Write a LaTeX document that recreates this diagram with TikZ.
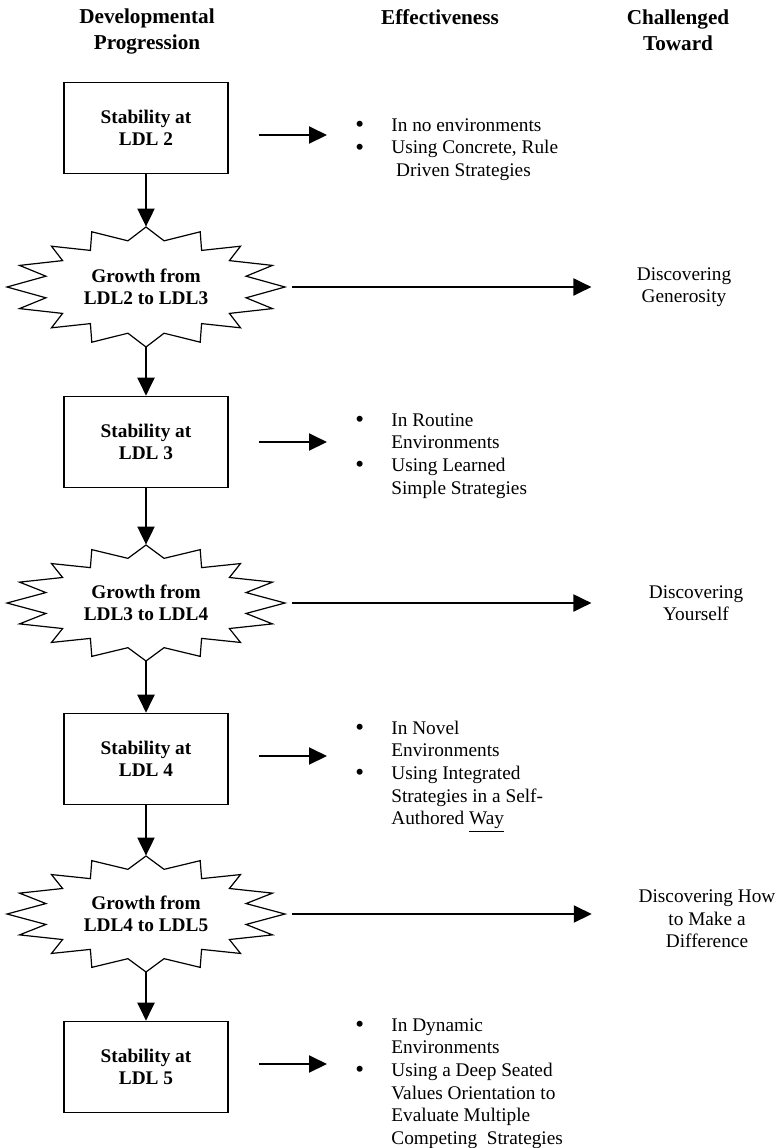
\documentclass[tikz,border=0pt]{standalone}
\usepackage{fontspec}
\setmainfont{Liberation Serif}
\usetikzlibrary{arrows.meta}
\newcommand{\effbullet}{\raisebox{-0.7pt}{\fontsize{12.5}{11}\selectfont\textbullet}}

\begin{document}
\begin{tikzpicture}[x=0.5pt,y=-0.5pt,
   arr/.style={-{Triangle[length=9pt,width=8.5pt]},line width=1pt},
   colhead/.style={align=center,inner sep=0,font=\fontsize{10.6}{13}\selectfont\bfseries},
   stab/.style={draw,line width=0.8pt,minimum width=82pt,minimum height=45.5pt,align=center,inner sep=0,font=\fontsize{9.65}{11}\selectfont\bfseries},
   growbox/.style={minimum width=139pt,minimum height=58pt,align=center,inner sep=0,font=\fontsize{9.65}{11}\selectfont\bfseries},
   burstline/.style={line width=0.6pt,line join=miter},
   eff/.style={anchor=base west,inner sep=0,font=\fontsize{9.65}{11.35}\selectfont},
   goal/.style={align=center,inner sep=0,font=\fontsize{9.65}{11.2}\selectfont}]
   \useasboundingbox (0,0) rectangle (781,1148);

   \node[colhead] (h1) at (147,31) {Developmental\\Progression};
   \node[colhead] (h2) at (440,17) {Effectiveness};
   \node[colhead] (h3) at (678,30) {Challenged\\Toward};

   \node[stab] (b1) at (146,128) {Stability at\\LDL 2};
   \node[growbox,minimum height=60pt] (g1) at (146,287) {Growth from\\LDL2 to LDL3};
   \node[stab] (b2) at (146,442) {Stability at\\LDL 3};
   \node[growbox] (g2) at (146,603) {Growth from\\LDL3 to LDL4};
   \node[stab] (b3) at (146,759) {Stability at\\LDL 4};
   \node[growbox] (g3) at (146,914) {Growth from\\LDL4 to LDL5};
   \node[stab] (b4) at (146,1067) {Stability at\\LDL 5};

   \node[eff] (e1) at (355,131) {\begin{tabular}[t]{@{}p{18pt}@{}l@{}}
      \effbullet & In no environments\\
      \effbullet & Using Concrete, Rule\\
      & \ Driven Strategies
   \end{tabular}};
   \node[eff] (e2) at (355,426) {\begin{tabular}[t]{@{}p{18pt}@{}l@{}}
      \effbullet & In Routine\\
      & Environments\\
      \effbullet & Using Learned\\
      & Simple Strategies
   \end{tabular}};
   \node[eff] (e3) at (355,734) {\begin{tabular}[t]{@{}p{18pt}@{}l@{}}
      \effbullet & In Novel\\
      & Environments\\
      \effbullet & Using Integrated\\
      & Strategies in a Self-\\
      & Authored \underline{Way}
   \end{tabular}};
   \node[eff] (e4) at (355,1031) {\begin{tabular}[t]{@{}p{18pt}@{}l@{}}
      \effbullet & In Dynamic\\
      & Environments\\
      \effbullet & Using a Deep Seated\\
      & Values Orientation to\\
      & Evaluate Multiple\\
      & Competing\ \ Strategies
   \end{tabular}};

   \node[goal] (c1) at (684,287) {Discovering\\Generosity};
   \node[goal] (c2) at (696,603) {Discovering\\Yourself};
   \node[goal] (c3) at (707,919) {Discovering How\\to Make a\\Difference};

   \foreach \n/\h in {g1/60,g2/58,g3/58}
      \draw[burstline,shift={(\n.center)},xscale=139,yscale=\h]
         (0,-1) -- (.13,-.77) -- (.39,-.92) -- (.40,-.61) -- (.68,-.68) -- (.60,-.44) -- (.91,-.36) -- (.72,-.18) -- (1,0)
         -- (.72,.18) -- (.91,.36) -- (.60,.44) -- (.68,.68) -- (.40,.61) -- (.39,.92) -- (.13,.77) -- (0,1)
         -- (-.13,.77) -- (-.39,.92) -- (-.40,.61) -- (-.68,.68) -- (-.60,.44) -- (-.91,.36) -- (-.72,.18) -- (-1,0)
         -- (-.72,-.18) -- (-.91,-.36) -- (-.60,-.44) -- (-.68,-.68) -- (-.40,-.61) -- (-.39,-.92) -- (-.13,-.77) -- cycle;

   \draw[arr] (b1) -- (g1);
   \draw[arr] (g1) -- (b2);
   \draw[arr] (b2) -- (g2);
   \draw[arr] (g2) -- (b3);
   \draw[arr] (b3) -- (g3);
   \draw[arr] (g3) -- (b4);

   \draw[arr,shorten <=15pt,shorten >=14pt] ([yshift=-3.5pt]b1.east) -- ([yshift=-3.5pt]b1.east -| e1.west);
   \draw[arr,shorten <=15pt,shorten >=14pt] (b2.east) -- (b2.east -| e2.west);
   \draw[arr,shorten <=15pt,shorten >=14pt] ([yshift=1.5pt]b3.east) -- ([yshift=1.5pt]b3.east -| e3.west);
   \draw[arr,shorten <=15pt,shorten >=14pt] ([yshift=1.5pt]b4.east) -- ([yshift=1.5pt]b4.east -| e4.west);

   \draw[arr,shorten <=3.5pt,shorten >=22.5pt] (g1.east) -- (g1.east -| c1.west);
   \draw[arr,shorten <=3.5pt,shorten >=28.5pt] (g2.east) -- (g2.east -| c2.west);
   \draw[arr,shorten <=3.5pt,shorten >=23.25pt] (g3.east) -- (g3.east -| c3.west);
\end{tikzpicture}
\end{document}
